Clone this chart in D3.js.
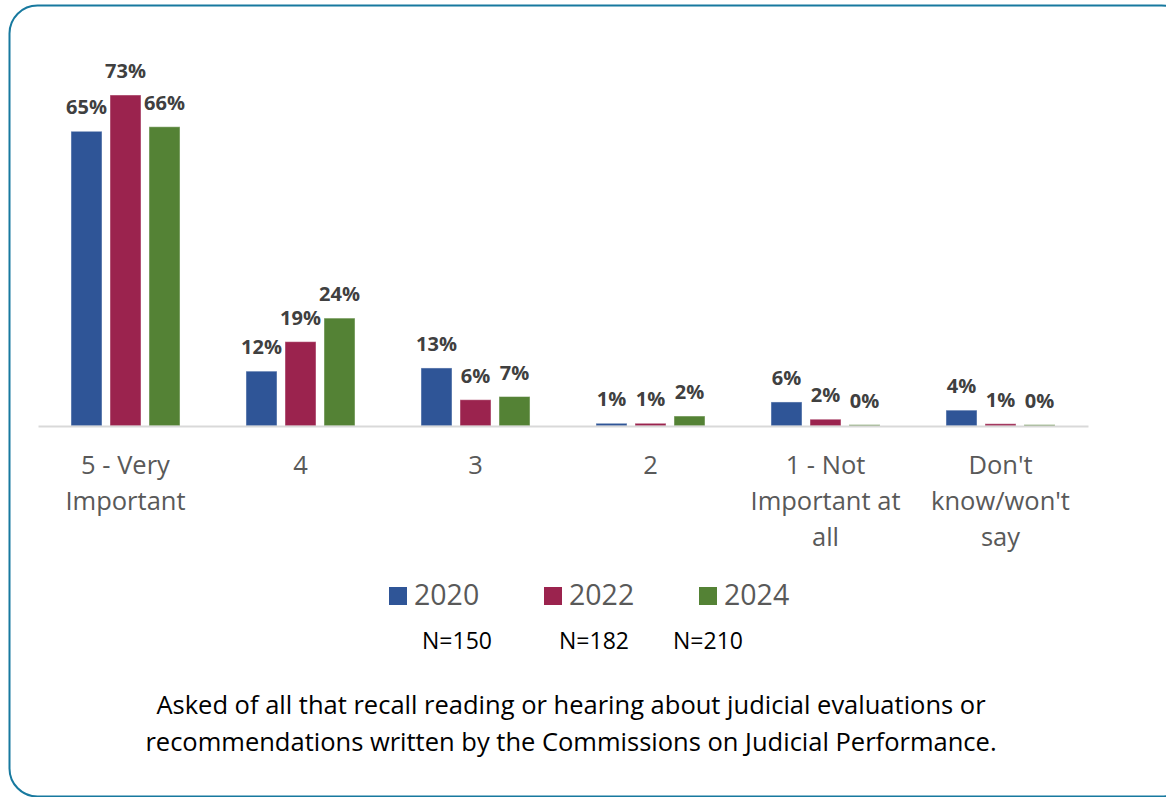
<!DOCTYPE html>
<html>
<head>
<meta charset="utf-8">
<script src="https://cdn.jsdelivr.net/npm/d3@7"></script>
<style>
  html, body { margin: 0; padding: 0; background: #fff; }
  svg { display: block; }
</style>
</head>
<body>
<svg id="chart" width="1166" height="797"></svg>
<script>
const categories = [
  ["5 - Very", "Important"],
  ["4"],
  ["3"],
  ["2"],
  ["1 - Not", "Important at", "all"],
  ["Don't", "know/won't", "say"]
];
const seriesNames = ["2020", "2022", "2024"];
const values2020 = [65, 12.1, 12.8, 0.6, 5.3, 3.5];
const values2022 = [73, 18.6, 5.8, 0.6, 1.5, 0.5];
const values2024 = [66, 23.8, 6.5, 2.2, 0.3, 0.3];
const labels2020 = ["65%", "12%", "13%", "1%", "6%", "4%"];
const labels2022 = ["73%", "19%", "6%", "1%", "2%", "1%"];
const labels2024 = ["66%", "24%", "7%", "2%", "0%", "0%"];
const sampleSizes = ["N=150", "N=182", "N=210"];
const footnote = [
  "Asked of all that recall reading or hearing about judicial evaluations or",
  "recommendations written by the Commissions on Judicial Performance."
];
const colors = ["#2F5597", "#9B234E", "#548235"];

const seriesValues = [values2020, values2022, values2024];
const seriesLabels = [labels2020, labels2022, labels2024];

const svg = d3.select("#chart");
const font = "'Open Sans', 'Noto Sans', sans-serif";

// outer frame
svg.append("rect")
  .attr("x", 9.5).attr("y", 5.5)
  .attr("width", 1180).attr("height", 791)
  .attr("rx", 28).attr("ry", 28)
  .attr("fill", "none")
  .attr("stroke", "#17799F")
  .attr("stroke-width", 2);

const x0 = d3.scaleBand()
  .domain(d3.range(categories.length))
  .range([38, 1088])
  .paddingInner(0).paddingOuter(0);

const x1 = d3.scaleBand()
  .domain(seriesNames)
  .range([0, x0.bandwidth()])
  .paddingInner(8 / 39)
  .paddingOuter(0.846);

const y = d3.scaleLinear().domain([0, 73]).range([426, 95]);

const groups = svg.append("g").selectAll("g")
  .data(categories.map((c, i) => i))
  .join("g")
  .attr("transform", i => `translate(${x0(i)},0)`);

groups.selectAll("rect")
  .data(i => seriesNames.map((s, k) => ({ s, k, v: seriesValues[k][i], l: seriesLabels[k][i] })))
  .join("rect")
  .attr("x", d => x1(d.s))
  .attr("y", d => y(d.v))
  .attr("width", x1.bandwidth())
  .attr("height", d => y(0) - y(d.v))
  .attr("fill", d => colors[d.k])
  .attr("stroke", "rgba(255,255,255,0.45)")
  .attr("stroke-width", 1);

groups.selectAll("text.val")
  .data(i => seriesNames.map((s, k) => ({ s, k, v: seriesValues[k][i], l: seriesLabels[k][i] })))
  .join("text")
  .attr("class", "val")
  .attr("x", d => x1(d.s) + x1.bandwidth() / 2)
  .attr("y", d => y(d.v) - 17)
  .attr("text-anchor", "middle")
  .attr("font-family", font)
  .attr("font-weight", "bold")
  .attr("font-size", 20)
  .attr("fill", "#404040")
  .text(d => d.l);

// baseline axis
const axis = d3.axisBottom(x0).tickSize(0).tickFormat("");
const axisG = svg.append("g").attr("transform", `translate(0,${y(0)})`).call(axis);
axisG.select(".domain").attr("stroke", "#D9D9D9").attr("stroke-width", 2);

// category labels
const catG = svg.append("g");
categories.forEach((lines, i) => {
  const t = catG.append("text")
    .attr("text-anchor", "middle")
    .attr("font-family", font)
    .attr("font-size", 25.5)
    .attr("fill", "#595959");
  lines.forEach((ln, j) => {
    t.append("tspan")
      .attr("x", x0(i) + x0.bandwidth() / 2)
      .attr("y", 474 + j * 36)
      .text(ln);
  });
});

// legend
const legendX = d3.scalePoint().domain(seriesNames).range([389, 699]);
const leg = svg.append("g");
seriesNames.forEach((s, k) => {
  leg.append("rect")
    .attr("x", legendX(s)).attr("y", 587)
    .attr("width", 18).attr("height", 18)
    .attr("fill", colors[k]);
  leg.append("text")
    .attr("x", legendX(s) + 25).attr("y", 605)
    .attr("font-family", font)
    .attr("font-size", 28.5)
    .attr("fill", "#595959")
    .text(s);
});

const nX = [457, 594, 708];
sampleSizes.forEach((n, k) => {
  svg.append("text")
    .attr("x", nX[k]).attr("y", 649)
    .attr("text-anchor", "middle")
    .attr("font-family", font)
    .attr("font-size", 23)
    .attr("fill", "#000")
    .text(n);
});

footnote.forEach((ln, j) => {
  svg.append("text")
    .attr("x", 571).attr("y", 714 + j * 37)
    .attr("text-anchor", "middle")
    .attr("font-family", font)
    .attr("font-size", 25.5)
    .attr("fill", "#000")
    .text(ln);
});
</script>
</body>
</html>
